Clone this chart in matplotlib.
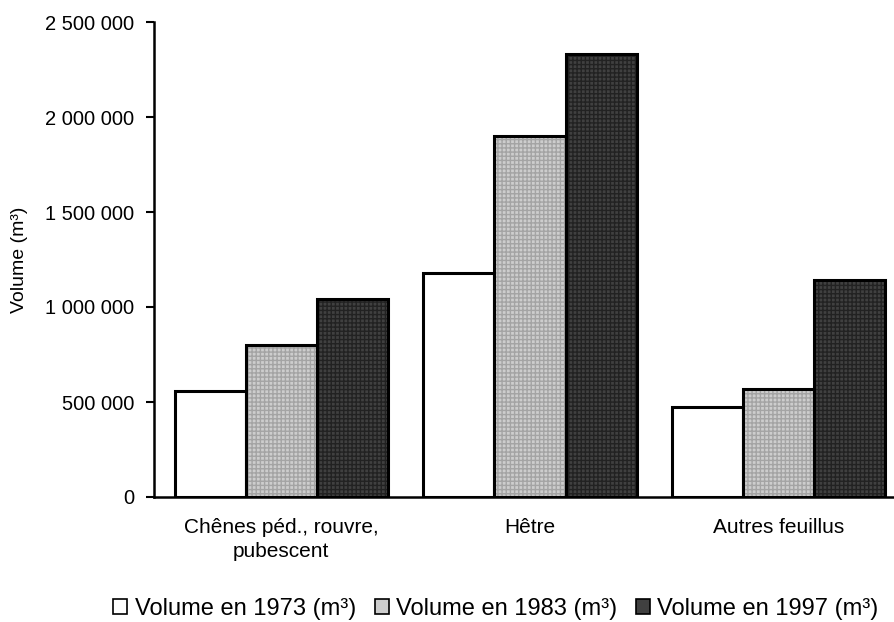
import matplotlib
matplotlib.use("Agg")
import matplotlib.pyplot as plt
import numpy as np
from matplotlib.patches import Patch

categories = ["Chênes péd., rouvre,\npubescent", "Hêtre", "Autres feuillus"]
series_names = ["Volume en 1973 (m³)", "Volume en 1983 (m³)", "Volume en 1997 (m³)"]
vol_1973 = [558000, 1178000, 474000]
vol_1983 = [800000, 1900000, 568000]
vol_1997 = [1042000, 2331000, 1142000]
yticks = [0, 500000, 1000000, 1500000, 2000000, 2500000]
ytick_labels = ["0", "500 000", "1 000 000", "1 500 000", "2 000 000", "2 500 000"]

plt.rcParams['font.family'] = ['Liberation Sans', 'DejaVu Sans']

fig = plt.figure(figsize=(8.95, 6.22), dpi=100)
ax = fig.add_axes([154/895, 1-497/622, 1-154/895, (497-22)/622])

x = np.arange(len(categories))
w = 0.286
faces = ['white', '#cdcdcd', '#404040']
hatch_cols = ['white', '#a4a4a4', '#222222']
data = [vol_1973, vol_1983, vol_1997]
for i, (vals, fc, hc) in enumerate(zip(data, faces, hatch_cols)):
    pos = x + (i - 1) * w
    if i > 0:
        ax.bar(pos, vals, w, color=fc, edgecolor=hc, hatch='++++', linewidth=0)
    ax.bar(pos, vals, w, facecolor='none', edgecolor='black', linewidth=2.2)

ax.set_xlim(-0.5 - 0.012, (895-278)/250)
ax.set_ylim(0, 2500000)
ax.set_yticks(yticks)
ax.set_yticklabels(ytick_labels, fontsize=14.5)
ax.set_xticks(x)
ax.set_xticklabels(categories, fontsize=15, linespacing=1.35)
ax.tick_params(axis='x', length=0, pad=15)
ax.tick_params(axis='y', direction='out', length=6, width=1.5, pad=8)
for s in ['top', 'right']:
    ax.spines[s].set_visible(False)
for s in ['left', 'bottom']:
    ax.spines[s].set_linewidth(1.8)
ax.set_ylabel("Volume (m³)", fontsize=14)
ax.yaxis.set_label_coords((28-154)/741, 0.5)

handles = [Patch(facecolor=f, edgecolor='black', linewidth=1.2) for f in faces]
fig.legend(handles, series_names, loc='center', bbox_to_anchor=(0.554, 1-609/622), ncol=3,
           frameon=False, fontsize=17, handlelength=0.6, handleheight=0.6,
           handletextpad=0.3, columnspacing=0.8, borderpad=0.1)

fig.savefig("out.png", dpi=100)
